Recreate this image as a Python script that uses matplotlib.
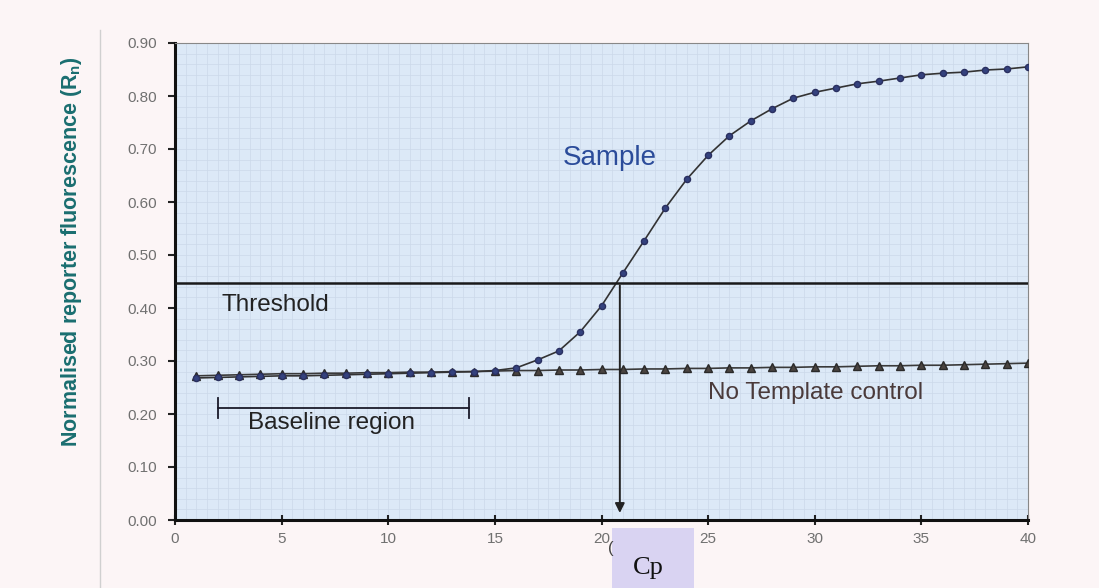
import matplotlib
matplotlib.use("Agg")
import matplotlib.pyplot as plt
import numpy as np
from matplotlib.patches import Rectangle

plt.rcParams['font.family'] = ['Liberation Sans', 'DejaVu Sans']

cycles = list(range(1, 41))
sample = [0.268, 0.269, 0.270, 0.271, 0.272, 0.272, 0.273, 0.274, 0.275, 0.276,
          0.277, 0.278, 0.279, 0.280, 0.282, 0.287, 0.302, 0.319, 0.355, 0.404,
          0.466, 0.527, 0.589, 0.643, 0.688, 0.725, 0.753, 0.776, 0.796, 0.807,
          0.815, 0.823, 0.828, 0.834, 0.840, 0.843, 0.845, 0.849, 0.851, 0.855]
ntc = [0.272, 0.273, 0.274, 0.275, 0.276, 0.276, 0.277, 0.277, 0.278, 0.278,
       0.279, 0.279, 0.280, 0.280, 0.281, 0.282, 0.282, 0.283, 0.283, 0.284,
       0.284, 0.285, 0.285, 0.286, 0.286, 0.287, 0.287, 0.288, 0.288, 0.289,
       0.289, 0.290, 0.291, 0.291, 0.292, 0.292, 0.293, 0.294, 0.295, 0.296]
threshold = 0.448
cp = 20.86
baseline = (2, 13.8)
xticks = [0, 5, 10, 15, 20, 25, 30, 35, 40]
yticks = [0.0, 0.1, 0.2, 0.3, 0.4, 0.5, 0.6, 0.7, 0.8, 0.9]

fig = plt.figure(figsize=(10.99, 5.88), dpi=100)
fig.patch.set_facecolor("#fcf5f6")
ax = fig.add_axes([175/1099, 1-520/588, (1028-175)/1099, (520-43)/588])
ax.set_facecolor("#dce9f7")
ax.set_xlim(0, 40)
ax.set_ylim(0, 0.9)

# fine grid
ax.set_xticks(np.arange(0, 40.01, 0.5), minor=True)
ax.set_yticks(np.arange(0, 0.901, 0.02), minor=True)
ax.grid(True, which="minor", color="#cbd9ea", linewidth=0.5)
ax.grid(True, which="major", color="#cbd9ea", linewidth=0.5)
ax.tick_params(which="minor", length=0)

ax.set_xticks(xticks)
ax.set_xticklabels([str(t) for t in xticks], fontsize=11, color="#707070")
ax.set_yticks(yticks)
ax.set_yticklabels([f"{t:.2f}" for t in yticks], fontsize=11, color="#707070")
ax.tick_params(axis="x", which="major", direction="inout", length=7, width=1.5,
               color="#222222", pad=5)
ax.tick_params(axis="y", which="major", direction="out", length=5, width=1.5,
               color="#222222", pad=8)

for s in ["left", "bottom"]:
    ax.spines[s].set_linewidth(2.2)
    ax.spines[s].set_color("#111111")
for s in ["top", "right"]:
    ax.spines[s].set_linewidth(0.8)
    ax.spines[s].set_color("#888888")

# series
ax.plot(cycles, ntc, color="#3a3a3a", linewidth=1.2, marker="^", markersize=6,
        markerfacecolor="#4a4440", markeredgecolor="#2a2a2a", zorder=3)
ax.plot(cycles, sample, color="#333333", linewidth=1.2, marker="o", markersize=4.4,
        markerfacecolor="#34427e", markeredgecolor="#2a3060", zorder=4)

# threshold
ax.axhline(threshold, color="#1a1a1a", linewidth=1.8, zorder=5)
ax.text(2.2, 0.405, "Threshold", fontsize=17.5, color="#222222", va="center")

# Cp arrow
ax.annotate("", xy=(cp, 0.008), xytext=(cp, threshold),
            arrowprops=dict(arrowstyle="-|>", color="#222222", lw=1.4,
                            mutation_scale=14), zorder=6)

# baseline bracket
ax.plot([baseline[0], baseline[1]], [0.211, 0.211], color="#1a1a2a", lw=1.3)
ax.plot([baseline[0], baseline[0]], [0.192, 0.230], color="#1a1a2a", lw=1.3)
ax.plot([baseline[1], baseline[1]], [0.192, 0.230], color="#1a1a2a", lw=1.3)
ax.text(3.4, 0.183, "Baseline region", fontsize=17.5, color="#222222", va="center")

ax.text(20.4, 0.683, "Sample", fontsize=20, color="#2b4c9a", va="center", ha="center")
ax.text(25.0, 0.24, "No Template control", fontsize=17.5, color="#4a3a3a", va="center")

fig.text(72/1099, 1-252/588, "Normalised reporter fluorescence (R$_\\mathregular{n}$)",
         rotation=90, fontsize=15.5, color="#1a6e70", fontweight="bold",
         ha="center", va="center")

# left page rule
fig.add_artist(plt.Line2D([100/1099, 100/1099], [0, 1-30/588], color="#d0d0d0", lw=1))

# Cp box
fig.text(611/1099, 1-549/588, "(", fontsize=12, color="#444444", ha="center", va="center")
fig.add_artist(Rectangle((612/1099, 0), (694-612)/1099, (588-528)/588,
                         facecolor="#d9d3f2", edgecolor="none"))
fig.text(648/1099, 1-568/588, "Cp", fontsize=19, family="Liberation Serif",
         color="#111111", ha="center", va="center")

fig.savefig("out.png", dpi=100, facecolor=fig.get_facecolor())
